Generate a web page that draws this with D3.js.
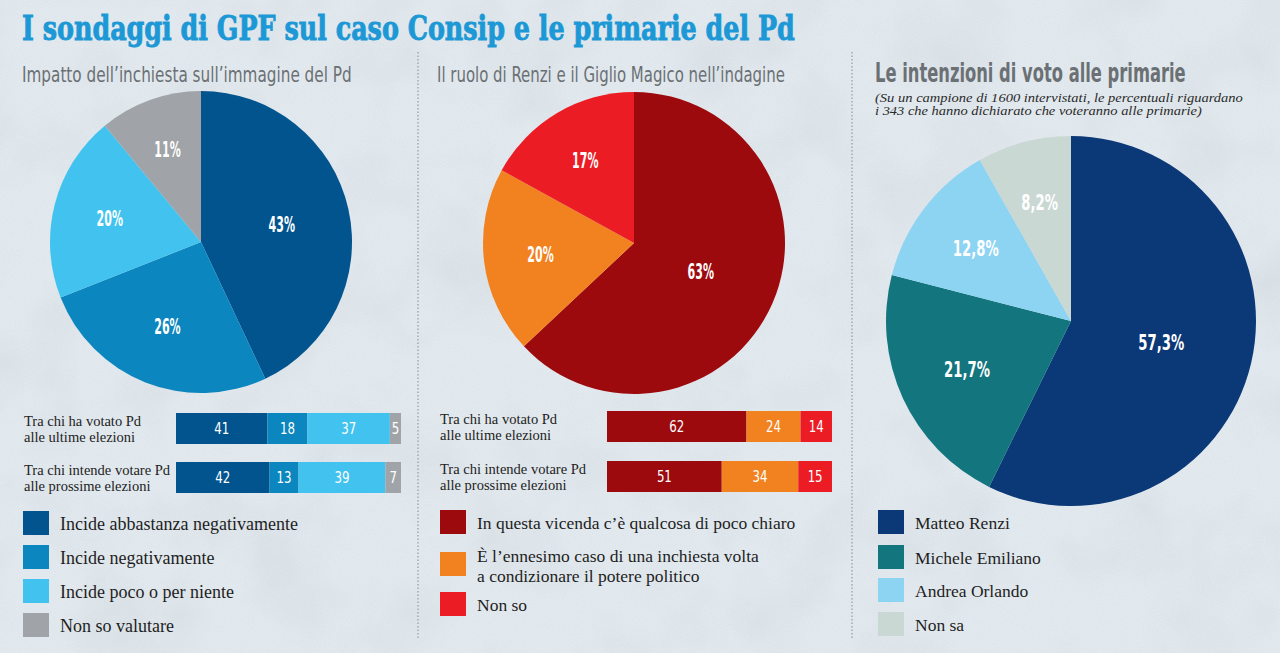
<!DOCTYPE html>
<html><head><meta charset="utf-8">
<script src="https://cdn.jsdelivr.net/npm/d3@7"></script>
<style>
html,body{margin:0;padding:0;background:#e2e9ee;}
svg{display:block;}
</style></head>
<body>
<svg id="chart" width="1280" height="653"></svg>
<script>
// ---------- DATA ----------
const mainTitle = "I sondaggi di GPF sul caso Consip e le primarie del Pd";

const impactTitle = "Impatto dell’inchiesta sull’immagine del Pd";
const impactCats = ["Incide abbastanza negativamente", "Incide  negativamente", "Incide poco o per niente", "Non so valutare"];
const impactPie = [43, 26, 20, 11];
const impactRowLabels = [["Tra chi ha votato Pd", "alle ultime elezioni"], ["Tra chi intende votare Pd", "alle prossime elezioni"]];
const impactVotedLast = [41, 18, 37, 5];
const impactIntendNext = [42, 13, 39, 7];

const roleTitle = "Il ruolo di Renzi e il Giglio Magico nell’indagine";
const roleCats = [["In questa vicenda c’è qualcosa di poco chiaro"], ["È l’ennesimo caso di una inchiesta volta", "a condizionare il potere politico"], ["Non so"]];
const rolePie = [63, 20, 17];
const roleRowLabels = [["Tra chi ha votato Pd", "alle ultime elezioni"], ["Tra chi intende votare Pd", "alle prossime elezioni"]];
const roleVotedLast = [62, 24, 14];
const roleIntendNext = [51, 34, 15];

const primaryTitle = "Le intenzioni di voto alle primarie";
const primaryNote = ["(Su un campione di 1600 intervistati, le percentuali riguardano", "i 343 che hanno dichiarato che voteranno alle primarie)"];
const primaryCats = ["Matteo Renzi", "Michele Emiliano", "Andrea Orlando", "Non sa"];
const primaryPie = [57.3, 21.7, 12.8, 8.2];

// ---------- STYLE ----------
const impactColors = ["#02548f", "#0b86be", "#42c3ef", "#a0a3a7"];
const roleColors = ["#9c0a0e", "#f2821f", "#ec1c24"];
const primaryColors = ["#0b3877", "#13757e", "#8dd4f3", "#cad8d3"];
const condensed = "'DejaVu Sans Condensed','Liberation Sans Narrow',sans-serif";
const serif = "'Liberation Serif','DejaVu Serif',serif";

const svg = d3.select("#chart");

// fit a text to a target width by horizontal scaling around its left x
function fitWidth(sel, x, y, target) {
  sel.each(function () {
    const w = this.getComputedTextLength();
    d3.select(this).attr("x", 0).attr("y", 0)
      .attr("transform", `translate(${x},${y}) scale(${target / w},1)`);
  });
  return sel;
}

// background texture
const defs = svg.append("defs");
const f = defs.append("filter").attr("id", "grain").attr("x", 0).attr("y", 0).attr("width", "100%").attr("height", "100%");
f.append("feTurbulence").attr("type", "fractalNoise").attr("baseFrequency", "0.9").attr("numOctaves", 2).attr("seed", 3);
f.append("feColorMatrix").attr("type", "matrix")
  .attr("values", "0 0 0 0 0.55  0 0 0 0 0.6  0 0 0 0 0.65  0 0 0 -1.6 1.05");
const f2 = defs.append("filter").attr("id", "cloud").attr("x", 0).attr("y", 0).attr("width", "100%").attr("height", "100%");
f2.append("feTurbulence").attr("type", "fractalNoise").attr("baseFrequency", "0.012").attr("numOctaves", 3).attr("seed", 8);
f2.append("feColorMatrix").attr("type", "matrix")
  .attr("values", "0 0 0 0 0.6  0 0 0 0 0.65  0 0 0 0 0.7  0 0 0 -2.2 1.25");

svg.append("rect").attr("width", 1280).attr("height", 653).attr("fill", "#e3eaef");
svg.append("rect").attr("width", 1280).attr("height", 653).attr("filter", "url(#cloud)").attr("opacity", 0.35);
svg.append("rect").attr("width", 1280).attr("height", 653).attr("filter", "url(#grain)").attr("opacity", 0.22);

// title
fitWidth(svg.append("text").text(mainTitle)
  .attr("font-family", "'DejaVu Serif','Liberation Serif',serif").attr("font-weight", "bold")
  .attr("font-size", 34).attr("fill", "#1b98d5").attr("stroke", "#1b98d5").attr("stroke-width", 0.9),
  22, 40, 773);

// dividers
[418, 852].forEach(x => {
  svg.append("line").attr("x1", x).attr("x2", x).attr("y1", 52).attr("y2", 640)
    .attr("stroke", "#9aa0a5").attr("stroke-width", 1.3).attr("stroke-dasharray", "1.5,2");
});

// subtitles
function subtitle(txt, x, y, size, len, weight) {
  fitWidth(svg.append("text").text(txt)
    .attr("font-family", condensed).attr("font-size", size).attr("font-weight", weight || "normal")
    .attr("fill", "#6b7074"), x, y, len);
}
subtitle(impactTitle, 22, 82, 22, 330);
subtitle(roleTitle, 437, 82, 22, 348);
subtitle(primaryTitle, 875, 82, 26, 311, "bold");
primaryNote.forEach((t, i) => {
  fitWidth(svg.append("text").text(t)
    .attr("font-family", serif).attr("font-style", "italic").attr("font-size", 13.5)
    .attr("fill", "#2a2a2a"), 875, 102 + i * 13, i === 0 ? 368 : 327);
});

// pies
function drawPie(values, colors, cx, cy, r, fmt, fontSize, charW) {
  const g = svg.append("g").attr("transform", `translate(${cx},${cy})`);
  const total = d3.sum(values);
  const arcs = d3.pie().sort(null).value(d => d)(values);
  const arc = d3.arc().innerRadius(0).outerRadius(r);
  g.selectAll("path").data(arcs).join("path").attr("d", arc).attr("fill", (d, i) => colors[i]);
  g.selectAll("text").data(arcs).join("text")
    .attr("text-anchor", "start")
    .attr("font-family", condensed).attr("font-weight", "bold").attr("font-size", fontSize)
    .attr("fill", "#fff").text(d => fmt(d.data))
    .each(function (d) {
      const frac = d.data / total;
      const lr = r * (0.69 - 0.33 * frac);
      const a = (d.startAngle + d.endAngle) / 2;
      const tw = fmt(d.data).length * charW;
      const px = Math.sin(a) * lr - tw / 2, py = -Math.cos(a) * lr + fontSize * 0.36;
      const w = this.getComputedTextLength();
      d3.select(this).attr("transform", `translate(${px},${py}) scale(${tw / w},1)`);
    });
}
drawPie(impactPie, impactColors, 201, 242, 151, v => v + "%", 21, 8.8);
drawPie(rolePie, roleColors, 634, 243, 151, v => v + "%", 21, 8.8);
drawPie(primaryPie, primaryColors, 1071, 321, 185, v => d3.format(".1f")(v).replace(".", ",") + "%", 22, 9.2);

// stacked bars
function drawBars(rows, labels, colors, x0, labelX, ys) {
  rows.forEach((vals, ri) => {
    const x = d3.scaleLinear().domain([0, d3.sum(vals)]).range([x0, x0 + 225]);
    const cum = d3.cumsum(vals);
    const g = svg.append("g");
    const segs = vals.map((v, i) => ({ v, s: cum[i] - v, e: cum[i], c: colors[i] }));
    g.selectAll("rect").data(segs).join("rect")
      .attr("x", d => x(d.s)).attr("y", ys[ri]).attr("width", d => x(d.e) - x(d.s)).attr("height", 31)
      .attr("fill", d => d.c);
    g.selectAll("text").data(segs).join("text")
      .attr("text-anchor", "start").attr("font-family", condensed).attr("font-size", 15)
      .attr("fill", "#fff").text(d => d.v)
      .each(function (d) {
        const tw = String(d.v).length * 7.5;
        const w = this.getComputedTextLength();
        const px = (x(d.s) + x(d.e)) / 2 - tw / 2, py = ys[ri] + 15.5 + 5.5;
        d3.select(this).attr("transform", `translate(${px},${py}) scale(${tw / w},1)`);
      });
    const t = svg.append("text").attr("font-family", serif).attr("font-size", 14.5).attr("fill", "#222");
    labels[ri].forEach((line, li) => {
      t.append("tspan").attr("x", labelX).attr("y", ys[ri] + 13 + li * 16).text(line);
    });
  });
}
drawBars([impactVotedLast, impactIntendNext], impactRowLabels, impactColors, 176, 24, [413, 462]);
drawBars([roleVotedLast, roleIntendNext], roleRowLabels, roleColors, 607, 440, [411, 461]);

// legends
function legend(items, colors, x, ys, size, lineGap) {
  items.forEach((lines, i) => {
    const arr = Array.isArray(lines) ? lines : [lines];
    svg.append("rect").attr("x", x).attr("y", ys[i]).attr("width", 26).attr("height", 24).attr("fill", colors[i]);
    const t = svg.append("text").attr("font-family", serif).attr("font-size", size).attr("fill", "#1e1e1e");
    arr.forEach((line, li) => {
      t.append("tspan").attr("x", x + 37).attr("y", ys[i] + (arr.length > 1 ? 10 : 19) + li * lineGap).text(line);
    });
  });
}
legend(impactCats, impactColors, 23, [511, 545, 579, 613], 18, 17);
legend(roleCats, roleColors, 440, [510, 552, 592], 17.5, 19.6);
legend(primaryCats, primaryColors, 878, [510, 545, 578, 612], 17.5, 17);
</script>
</body></html>
